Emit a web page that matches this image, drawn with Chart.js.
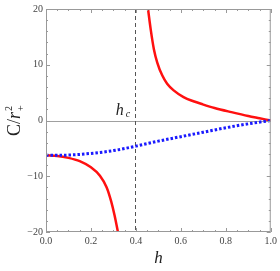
<!DOCTYPE html>
<html>
<head>
<meta charset="utf-8">
<script src="https://cdn.jsdelivr.net/npm/chart.js@4/dist/chart.umd.min.js"></script>
<style>
  html, body { margin: 0; padding: 0; background: #fff; }
  #wrap { width: 280px; height: 271px; }
</style>
</head>
<body>
<div id="wrap"><canvas id="chart" width="280" height="271"></canvas></div>
<script>
// values
const hCritical = 0.395;

const redLeftH = [0, 0.05, 0.1, 0.15, 0.2, 0.24, 0.27, 0.29, 0.305, 0.32];
const redLeftC = [-6.25, -6.35, -6.7, -7.3, -8.4, -9.9, -12.0, -14.5, -17.0, -20];

const redRightH = [0.454, 0.466, 0.48, 0.495, 0.517, 0.539, 0.568, 0.612, 0.656, 0.697, 0.75, 0.825, 0.9, 0.95, 1.0];
const redRightC = [20, 16.3, 12.8, 10.4, 8.1, 6.6, 5.4, 4.2, 3.45, 2.9, 2.25, 1.5, 0.8, 0.4, 0];

const blueH = [0, 0.1, 0.2, 0.3, 0.4, 0.5, 0.6, 0.7, 0.8, 0.9, 1.0];
const blueC = [-6.25, -6.2, -5.9, -5.4, -4.6, -3.7, -2.9, -2.1, -1.3, -0.6, 0];

const xTicks = [0, 0.2, 0.4, 0.6, 0.8, 1.0];
const yTicks = [-20, -10, 0, 10, 20];

const toPoints = (xs, ys) => xs.map((x, i) => ({ x: x, y: ys[i] }));

const serif = "'Liberation Serif', 'DejaVu Serif', serif";

// Mathematica style frame: inward ticks on all sides, zero line, h_c marker, labels
const framePlugin = {
    id: 'frame',
    beforeDatasetsDraw(chart) {
        const { ctx, chartArea: a, scales: { x, y } } = chart;
        ctx.save();
        // zero line
        ctx.strokeStyle = '#a0a0a0';
        ctx.lineWidth = 1;
        ctx.beginPath();
        const y0 = Math.round(y.getPixelForValue(0)) + 0.5;
        ctx.moveTo(a.left, y0);
        ctx.lineTo(a.right, y0);
        ctx.stroke();

        // dashed line at h_c
        const xc = Math.round(x.getPixelForValue(hCritical)) + 0.5;
        ctx.strokeStyle = '#555';
        ctx.setLineDash([4, 3]);
        ctx.beginPath();
        ctx.moveTo(xc, a.top);
        ctx.lineTo(xc, a.bottom);
        ctx.stroke();
        ctx.setLineDash([]);
        ctx.restore();
    },
    afterDraw(chart) {
        const { ctx, chartArea: a, scales: { x, y } } = chart;
        ctx.save();
        ctx.strokeStyle = '#999';
        ctx.lineWidth = 1;
        ctx.strokeRect(a.left + 0.5, a.top + 0.5, a.right - a.left - 1, a.bottom - a.top - 1);

        ctx.beginPath();
        // x ticks
        for (let i = 0; i <= 20; i++) {
            const v = i * 0.05;
            const px = Math.round(x.getPixelForValue(v)) + 0.5;
            const len = i % 4 === 0 ? 4 : 2;
            ctx.moveTo(px, a.bottom);
            ctx.lineTo(px, a.bottom - len);
            ctx.moveTo(px, a.top);
            ctx.lineTo(px, a.top + len);
        }
        // y ticks
        for (let v = -20; v <= 20; v += 2) {
            const py = Math.round(y.getPixelForValue(v)) + 0.5;
            const len = v % 10 === 0 ? 4 : 2;
            ctx.moveTo(a.left, py);
            ctx.lineTo(a.left + len, py);
            ctx.moveTo(a.right, py);
            ctx.lineTo(a.right - len, py);
        }
        ctx.stroke();

        // h_c label
        ctx.fillStyle = '#222';
        ctx.textBaseline = 'alphabetic';
        ctx.textAlign = 'left';
        const xc = x.getPixelForValue(hCritical);
        ctx.font = 'italic 16px ' + serif;
        ctx.fillText('h', xc - 19, 115);
        ctx.font = 'italic 10px ' + serif;
        ctx.fillText('c', xc - 9, 117);

        // x title
        ctx.font = 'italic 17px ' + serif;
        ctx.textAlign = 'center';
        ctx.fillText('h', (a.left + a.right) / 2, 263);

        // y title  C/r_+^2
        ctx.translate(20, (a.top + a.bottom) / 2);
        ctx.rotate(-Math.PI / 2);
        ctx.textAlign = 'left';
        ctx.font = '18px ' + serif;
        const w1 = ctx.measureText('C/').width;
        ctx.font = 'italic 18px ' + serif;
        const w2 = ctx.measureText('r').width;
        const start = -(w1 + w2 + 7) / 2;
        ctx.font = '18px ' + serif;
        ctx.fillText('C/', start, 0);
        ctx.font = 'italic 18px ' + serif;
        ctx.fillText('r', start + w1, 0);
        ctx.font = '10px ' + serif;
        ctx.fillText('2', start + w1 + w2 + 1, -8);
        ctx.fillText('+', start + w1 + w2 + 1, 4);
        ctx.restore();
    }
};

new Chart(document.getElementById('chart'), {
    type: 'line',
    data: {
        datasets: [
            {
                data: toPoints(blueH, blueC),
                borderColor: '#1a1aff',
                borderWidth: 3,
                borderDash: [2.5, 2],
                borderCapStyle: 'butt',
                pointRadius: 0,
                cubicInterpolationMode: 'monotone'
            },
            {
                data: toPoints(redLeftH, redLeftC),
                borderColor: '#ff1010',
                borderWidth: 2.5,
                pointRadius: 0,
                cubicInterpolationMode: 'monotone'
            },
            {
                data: toPoints(redRightH, redRightC),
                borderColor: '#ff1010',
                borderWidth: 2.5,
                pointRadius: 0,
                cubicInterpolationMode: 'monotone'
            }
        ]
    },
    options: {
        responsive: false,
        animation: false,
        layout: { padding: { top: 6, right: 7, left: 0, bottom: 0 } },
        plugins: { legend: { display: false }, tooltip: { enabled: false } },
        scales: {
            x: {
                type: 'linear',
                min: 0,
                max: 1,
                grid: { display: false, drawTicks: false },
                border: { display: false },
                afterBuildTicks: s => { s.ticks = xTicks.map(v => ({ value: v })); },
                afterFit: s => { s.height = 39; },
                ticks: {
                    padding: 3,
                    maxRotation: 0,
                    color: '#444',
                    font: { family: serif, size: 10 },
                    callback: v => v.toFixed(1)
                }
            },
            y: {
                min: -20,
                max: 20,
                grid: { display: false, drawTicks: false },
                border: { display: false },
                afterBuildTicks: s => { s.ticks = yTicks.map(v => ({ value: v })); },
                afterFit: s => { s.width = 46; },
                ticks: {
                    padding: 3,
                    color: '#444',
                    font: { family: serif, size: 10 },
                    callback: v => v < 0 ? '\u2212' + Math.abs(v) : String(v)
                }
            }
        }
    },
    plugins: [framePlugin]
});
</script>
</body>
</html>
